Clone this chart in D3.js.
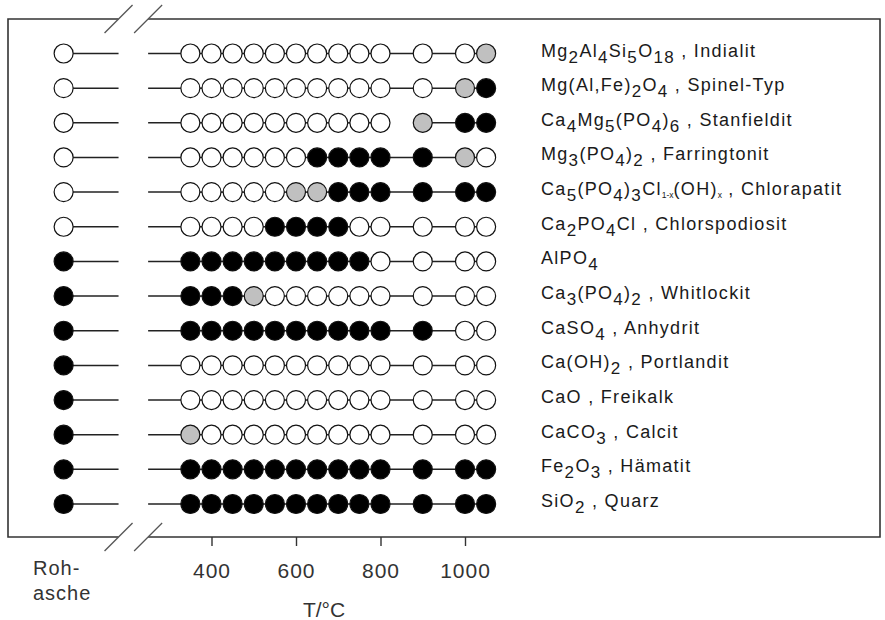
<!DOCTYPE html>
<html><head><meta charset="utf-8">
<script src="https://cdn.jsdelivr.net/npm/d3@7"></script>
<style>body{margin:0;background:#fff}svg{display:block}</style>
</head><body><svg id="c" width="885" height="620"></svg>
<script>
// ---- data ----
const temps = [350,400,450,500,550,600,650,700,750,800,900,1000,1050];
const tickValues = [400,600,800,1000];
const formulas = ["Mg{2}Al{4}Si{5}O{18}","Mg(Al,Fe){2}O{4}","Ca{4}Mg{5}(PO{4}){6}","Mg{3}(PO{4}){2}",
  "Ca{5}(PO{4}){3}Cl[1-x](OH)[x]","Ca{2}PO{4}Cl","AlPO{4}","Ca{3}(PO{4}){2}","CaSO{4}","Ca(OH){2}",
  "CaO ","CaCO{3}","Fe{2}O{3}","SiO{2}"];
const names = ["Indialit","Spinel-Typ","Stanfieldit","Farringtonit","Chlorapatit","Chlorspodiosit","",
  "Whitlockit","Anhydrit","Portlandit","Freikalk","Calcit","Hämatit","Quarz"];
// o = not detected, g = traces, b = detected
const rawAsh = ["o","o","o","o","o","o","b","b","b","b","b","b","b","b"];
const states = ["oooooooooooog","ooooooooooogb","oooooooooogbb","oooooobbbbbgo","oooooggbbbbbb",
  "oooobbbbooooo","bbbbbbbbboooo","bbbgooooooooo","bbbbbbbbbbboo","ooooooooooooo",
  "ooooooooooooo","goooooooooooo","bbbbbbbbbbbbb","bbbbbbbbbbbbb"];
const missingLinks = [{row:2, from:800, to:900}];
const ashPosition = 50;            // position of "Rohasche" on the (broken) temperature axis
const breakFrom = 180, breakTo = 250;
const axisLabel = "T/°C";
const ashLabel = ["Roh-","asche"];

// ---- drawing ----
const svg = d3.select("#c");
const x = d3.scaleLinear().domain([400,1000]).range([211.5,465]);
const y = d3.scalePoint().domain(d3.range(formulas.length)).range([53.5,504]);
const fill = {o:"#ffffff", g:"#c0c0c0", b:"#000000"};
const frame = {l:8, r:880, t:19, b:537};
const r = 9.5;
const font = "Liberation Sans, Arial, sans-serif";

// frame (broken at axis break)
const fr = svg.append("g").attr("stroke","#333").attr("stroke-width",1.6).attr("fill","none");
fr.append("path").attr("d",`M${x(breakFrom)},${frame.t}H${frame.l}V${frame.b}H${x(breakFrom)}`);
fr.append("path").attr("d",`M${x(breakTo)},${frame.t}H${frame.r}V${frame.b}H${x(breakTo)}`);
// break marks
const br = svg.append("g").attr("stroke","#555").attr("stroke-width",1.3);
[frame.t, frame.b].forEach(yy=>{
  [breakFrom, breakTo].forEach(t=>{
    br.append("line").attr("x1",x(t)-14).attr("y1",yy+14).attr("x2",x(t)+14).attr("y2",yy-14);
  });
});

// rows
const rows = svg.append("g");
formulas.forEach((f,i)=>{
  const yy = y(i);
  const g = rows.append("g");
  const ls = g.append("g").attr("stroke","#222").attr("stroke-width",1.5);
  ls.append("line").attr("x1",x(ashPosition)).attr("x2",x(breakFrom)).attr("y1",yy).attr("y2",yy);
  ls.append("line").attr("x1",x(breakTo)).attr("x2",x(temps[0])).attr("y1",yy).attr("y2",yy);
  for(let k=0;k<temps.length-1;k++){
    const miss = missingLinks.some(m=>m.row===i && m.from===temps[k] && m.to===temps[k+1]);
    if(miss) continue;
    ls.append("line").attr("x1",x(temps[k])).attr("x2",x(temps[k+1])).attr("y1",yy).attr("y2",yy);
  }
  const pts = [{x:x(ashPosition), s:rawAsh[i]}].concat(temps.map((t,k)=>({x:x(t), s:states[i][k]})));
  g.selectAll("circle").data(pts).join("circle")
    .attr("cx",d=>d.x).attr("cy",yy).attr("r",r)
    .attr("fill",d=>fill[d.s]).attr("stroke","#111").attr("stroke-width",1.2);

  // label
  const txt = g.append("text").attr("x",541).attr("y",yy+3)
    .attr("font-family",font).attr("font-size",18).attr("letter-spacing","1.3px").attr("fill","#1a1a1a");
  const re = /\{([^}]*)\}|\[([^\]]*)\]|([^{\[]+)/g;
  let m, shift = 0;
  while((m = re.exec(f))){
    if(m[1]!==undefined){
      txt.append("tspan").attr("dy",6-shift).attr("font-size",17).text(m[1]); shift=6;
    } else if(m[2]!==undefined){
      txt.append("tspan").attr("dy",3-shift).attr("font-size",8.5).attr("letter-spacing","0px").text(m[2]); shift=3;
    } else {
      txt.append("tspan").attr("dy",-shift).text(m[3]); shift=0;
    }
  }
  if(names[i]) txt.append("tspan").attr("dy",-shift).text(" , "+names[i]);
});

// axis
const ax = svg.append("g").attr("transform",`translate(0,${frame.b})`)
  .call(d3.axisBottom(x).tickValues(tickValues).tickSize(9).tickPadding(17).tickFormat(d3.format("d")));
ax.select(".domain").remove();
ax.selectAll(".tick line").attr("stroke","#333").attr("stroke-width",1.4);
ax.selectAll(".tick text").attr("font-family",font)
  .attr("font-size",21).attr("letter-spacing","1px").attr("fill","#333");

svg.append("text").attr("x",324).attr("y",617).attr("text-anchor","middle")
  .attr("font-family",font).attr("font-size",21).attr("fill","#333").text(axisLabel);
const al = svg.append("text").attr("font-family",font)
  .attr("font-size",20).attr("fill","#333").attr("letter-spacing","1px");
al.append("tspan").attr("x",33).attr("y",575).text(ashLabel[0]);
al.append("tspan").attr("x",33).attr("y",600).text(ashLabel[1]);
</script></body></html>
